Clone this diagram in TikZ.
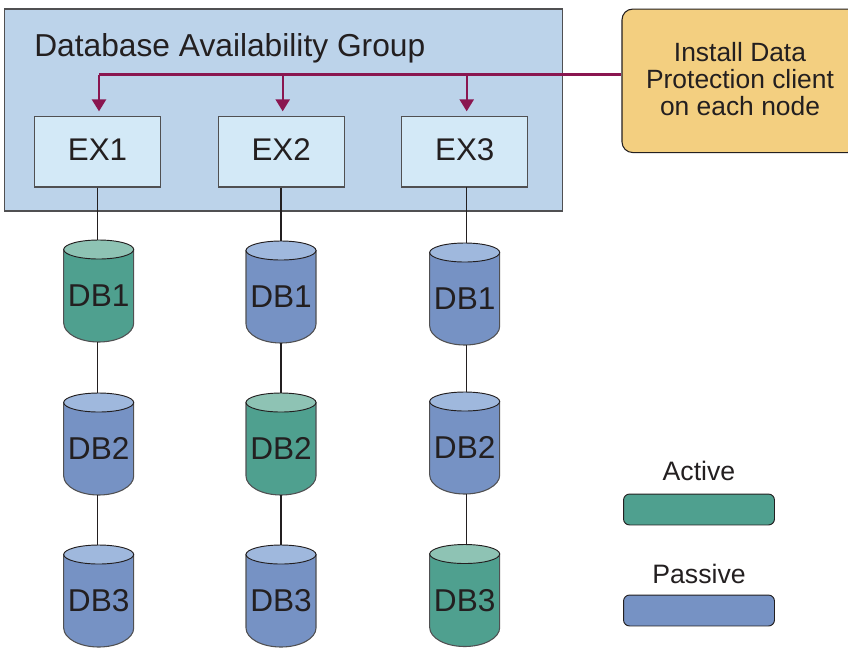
\documentclass[tikz,border=0pt]{standalone}
\usepackage{fontspec}
\setmainfont{Liberation Sans}
\usetikzlibrary{arrows.meta}
\definecolor{groupblue}{RGB}{188, 211, 234}
\definecolor{exblue}{RGB}{211, 233, 247}
\definecolor{clientyellow}{RGB}{243, 207, 128}
\definecolor{feedred}{RGB}{138, 22, 80}
\definecolor{inkgray}{RGB}{35, 31, 32}
\definecolor{edgegray}{RGB}{80, 80, 82}
\definecolor{activebody}{RGB}{79, 160, 143}
\definecolor{activelid}{RGB}{142, 195, 180}
\definecolor{passivebody}{RGB}{118, 146, 196}
\definecolor{passivelid}{RGB}{159, 184, 221}
\tikzset{
  exbox/.style={draw=edgegray, fill=exblue, line width=0.8pt, inner sep=0pt, text=inkgray, text height=12.5pt, text depth=0pt,
                minimum width=94.3pt, minimum height=52.9pt, font=\fontsize{23.5}{26}\selectfont},
  dbbox/.style={inner sep=0pt, outer sep=0pt, text=inkgray, text height=23.5pt, text depth=0pt,
                minimum width=52.5pt, minimum height=76.5pt, font=\fontsize{23.7}{26}\selectfont},
  legendbox/.style={draw=inkgray, rounded corners=4.5pt, line width=0.7pt, inner sep=0pt,
                minimum width=113.2pt, minimum height=23.2pt},
  legendtext/.style={text=inkgray, inner sep=0pt, font=\fontsize{20}{24}\selectfont},
  feed/.style={draw=feedred, line width=1.8pt},
  feedarrow/.style={feed, -{Triangle[width=10.5pt,length=9pt]}, shorten >=3.4pt},
  link/.style={draw=inkgray, line width=1.1pt}
}
\newcommand{\dbcyl}[6]{%
  \begin{scope}[shift={(#2,#3)}]
    \filldraw[draw=edgegray, fill=#4, line width=0.8pt] (-35,9.5) -- (-35,83)
        arc[start angle=180, end angle=0, x radius=35, y radius=19] -- (35,9.5) -- cycle;
    \filldraw[draw=inkgray, fill=#5, line width=0.7pt] (0,9.5) ellipse (35 and 9.5);
    \node[dbbox] (#1) at (0,51) {#6};
  \end{scope}}

\begin{document}
\begin{tikzpicture}[x=0.75pt, y=-0.75pt]
  \useasboundingbox (0,0) rectangle (848,647);

  \node[draw=edgegray, fill=groupblue, line width=0.8pt, inner sep=0pt, minimum width=418.5pt, minimum height=151.5pt] (group) at (283.5,110) {};
  \node[text=inkgray, inner sep=0pt, anchor=base west, font=\fontsize{23.8}{26}\selectfont] (title) at (34,56.7) {Database Availability Group};

  \node[exbox] (ex1) at (97.5,151.7) {EX1};
  \node[exbox] (ex2) at (281.2,151.7) {EX2};
  \node[exbox] (ex3) at (464.8,151.7) {EX3};

  \node[draw=inkgray, fill=clientyellow, rounded corners=8pt, line width=0.8pt, inner sep=0pt, text=inkgray, text depth=3pt,
        minimum width=177pt, minimum height=107.6pt, align=center, font=\fontsize{19.8}{20}\selectfont] (client) at (740,80.8)
       {Install Data\\Protection client\\on each node};

  \dbcyl{db11}{98.7}{240}{activebody}{activelid}{DB1}
  \dbcyl{db12}{98.7}{393}{passivebody}{passivelid}{DB2}
  \dbcyl{db13}{98.7}{545}{passivebody}{passivelid}{DB3}
  \dbcyl{db21}{281}{241}{passivebody}{passivelid}{DB1}
  \dbcyl{db22}{281}{393}{activebody}{activelid}{DB2}
  \dbcyl{db23}{281}{545}{passivebody}{passivelid}{DB3}
  \dbcyl{db31}{464.7}{243}{passivebody}{passivelid}{DB1}
  \dbcyl{db32}{464.7}{392}{passivebody}{passivelid}{DB2}
  \dbcyl{db33}{464.7}{544.5}{activebody}{activelid}{DB3}

  \coordinate (link3) at (466.3,187);
  \draw[link] (ex1.south) -- (ex1.south |- db11.north);
  \draw[link] (ex1.south |- db11.south) -- (ex1.south |- db12.north);
  \draw[link] (ex1.south |- db12.south) -- (ex1.south |- db13.north);
  \draw[link] (ex2.south) -- (ex2.south |- db21.north);
  \draw[link] (ex2.south |- db21.south) -- (ex2.south |- db22.north);
  \draw[link] (ex2.south |- db22.south) -- (ex2.south |- db23.north);
  \draw[link] (link3) -- (link3 |- db31.north);
  \draw[link] (link3 |- db31.south) -- (link3 |- db32.north);
  \draw[link] (link3 |- db32.south) -- (link3 |- db33.north);

  \coordinate (bus1) at (99,74.5);
  \coordinate (bus2) at (282.7,74.5);
  \coordinate (bus3) at (466.7,74.5);
  \draw[feed] (client.west |- bus1) -- (bus1);
  \draw[feedarrow] (bus1) -- (bus1 |- ex1.north);
  \draw[feedarrow] (bus2) -- (bus2 |- ex2.north);
  \draw[feedarrow] (bus3) -- (bus3 |- ex3.north);

  \node[legendbox, fill=activebody] (activekey) at (699,509.5) {};
  \node[legendbox, fill=passivebody] (passivekey) at (699,610.5) {};
  \node[legendtext, anchor=base] (activelabel) at (699,480) {Active};
  \node[legendtext, anchor=base] (passivelabel) at (699,583) {Passive};
\end{tikzpicture}
\end{document}
